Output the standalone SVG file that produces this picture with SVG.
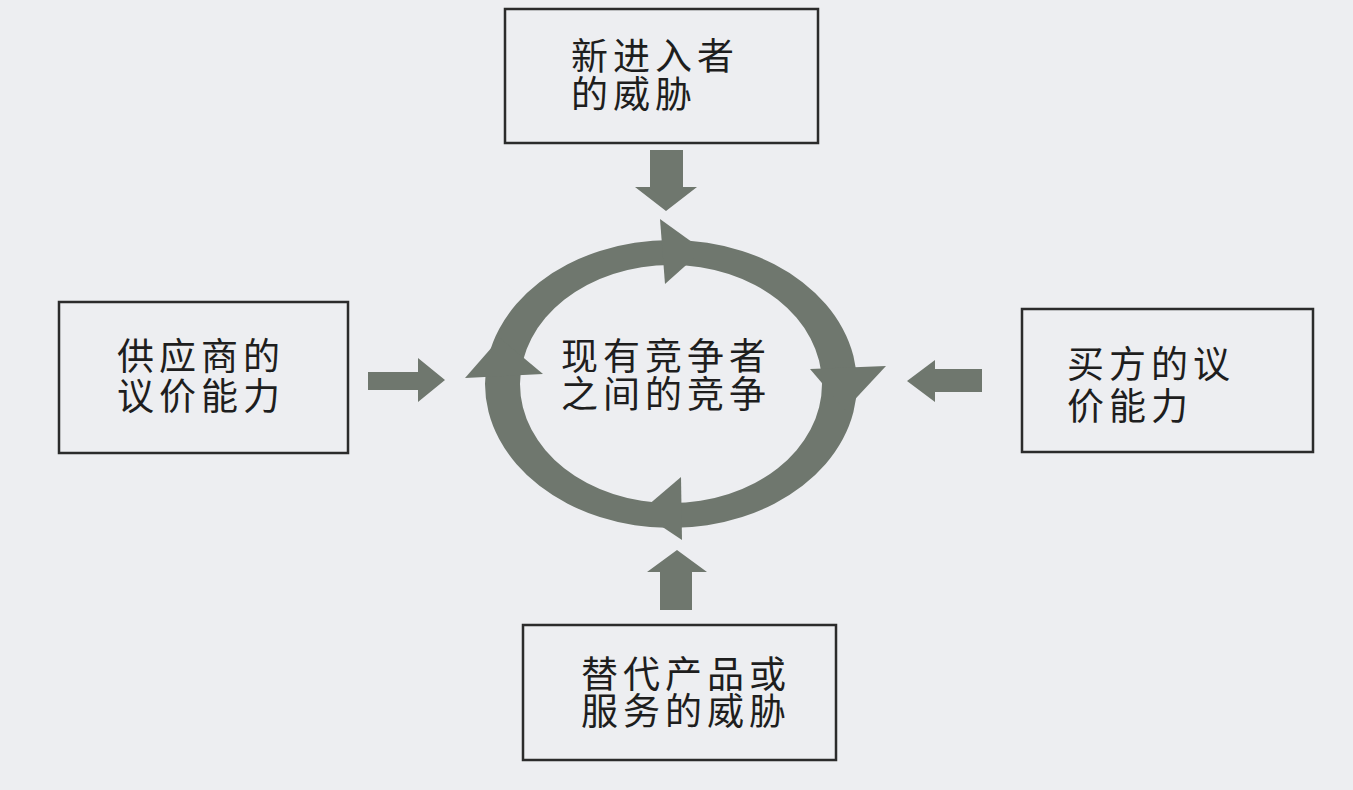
<svg xmlns="http://www.w3.org/2000/svg" width="1353" height="790" viewBox="0 0 1353 790">
  <style>
    .box { fill: none; stroke: #2b2b2b; stroke-width: 2.5; }
    .label { font-family: "Liberation Sans", "Noto Sans CJK SC", sans-serif; font-size: 37px; fill: #1e1e1e; letter-spacing: 5px; }
    .force { fill: #6f776e; }
  </style>
  <rect width="1353" height="790" fill="#edeef1"/>

  <!-- rivalry ring with clockwise arrowheads -->
  <g id="rivalry">
    <path class="force" fill-rule="evenodd" d="M485,384 a186,144 0 1,0 372,0 a186,144 0 1,0 -372,0 Z M520,384 a151,119 0 1,0 302,0 a151,119 0 1,0 -302,0 Z"/>
    <polygon class="force" points="660,219 665,284 703,250"/>
    <polygon class="force" points="810,369 886,366 845,410"/>
    <polygon class="force" points="681,477 682,540 640,512"/>
    <polygon class="force" points="465,378 543,374 500,338"/>
    <text class="label" x="561" y="370">现有竞争者<tspan x="561" dy="38">之间的竞争</tspan></text>
  </g>

  <g id="new-entrants">
    <rect class="box" x="505" y="9" width="313" height="134"/>
    <text class="label" x="571" y="70">新进入者<tspan x="571" dy="38">的威胁</tspan></text>
  </g>

  <g id="suppliers">
    <rect class="box" x="59" y="302" width="289" height="151"/>
    <text class="label" x="117" y="370">供应商的<tspan x="117" dy="40">议价能力</tspan></text>
  </g>

  <g id="buyers">
    <rect class="box" x="1022" y="309" width="291" height="143"/>
    <text class="label" x="1067" y="378">买方的议<tspan x="1067" dy="42">价能力</tspan></text>
  </g>

  <g id="substitutes">
    <rect class="box" x="523" y="625" width="313" height="135"/>
    <text class="label" x="581" y="688">替代产品或<tspan x="581" dy="37">服务的威胁</tspan></text>
  </g>

  <!-- block arrows pushing on the ring -->
  <g id="connectors">
    <polygon class="force" points="650,150 683,150 683,187 697,187 666,211 635,187 650,187"/>
    <polygon class="force" points="368,372 418,372 418,358 445,380 418,402 418,390 368,390"/>
    <polygon class="force" points="982,369 935,369 935,360 907,381 935,402 935,392 982,392"/>
    <polygon class="force" points="660,610 692,610 692,572 707,572 677,550 647,572 660,572"/>
  </g>
</svg>
